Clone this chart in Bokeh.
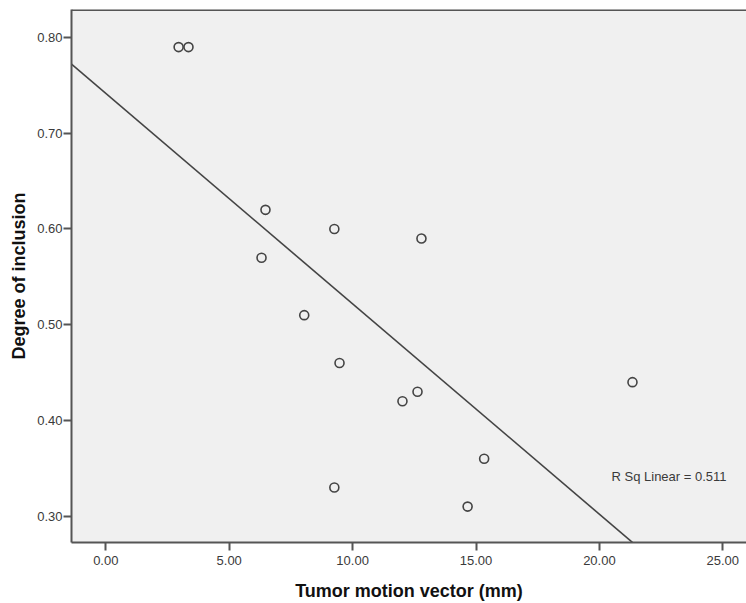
import numpy as np
from bokeh.plotting import figure
from bokeh.models import Range1d, FixedTicker, PrintfTickFormatter, Label, Span
from bokeh.embed import file_html
from bokeh.resources import INLINE

# Data
motion_mm = [2.95, 3.35, 6.47, 9.26, 12.79, 6.31, 8.04, 9.47, 12.63, 12.02, 21.34, 15.33, 9.26, 14.66]
inclusion = [0.79, 0.79, 0.62, 0.60, 0.59, 0.57, 0.51, 0.46, 0.43, 0.42, 0.44, 0.36, 0.33, 0.31]
x_ticks = [0, 5, 10, 15, 20, 25]
y_ticks = [0.30, 0.40, 0.50, 0.60, 0.70, 0.80]
r_sq_text = "R Sq Linear = 0.511"

FONT = "Liberation Sans"
AX = "#555555"
TXT = "#3a3a3a"

x_range = Range1d(-1.39, 25.96)
y_range = Range1d(0.2725, 0.8293)

p = figure(width=746, height=603, x_range=x_range, y_range=y_range,
           output_backend="svg", toolbar_location=None,
           min_border_left=71, min_border_right=0, min_border_top=9, min_border_bottom=61)
p.background_fill_color = "#f0f0f0"
p.border_fill_color = "white"
p.outline_line_color = None
p.grid.visible = False

# top border of the frame
p.add_layout(Span(location=y_range.end, dimension="width", line_color=AX, line_width=3))

for ax in (p.xaxis[0], p.yaxis[0]):
    ax.axis_line_color = AX
    ax.axis_line_width = 2
    ax.major_tick_line_color = AX
    ax.major_tick_line_width = 2
    ax.major_tick_in = 0
    ax.minor_tick_line_color = None
    ax.major_label_text_font = FONT
    ax.major_label_text_font_size = "13px"
    ax.major_label_text_color = TXT
    ax.axis_label_text_font = FONT
    ax.axis_label_text_font_style = "bold"
    ax.axis_label_text_font_size = "18px"
    ax.axis_label_text_color = "#111111"

p.xaxis.ticker = FixedTicker(ticks=x_ticks)
p.yaxis.ticker = FixedTicker(ticks=y_ticks)
p.xaxis.formatter = PrintfTickFormatter(format="%.2f")
p.yaxis.formatter = PrintfTickFormatter(format="%.2f")
p.xaxis.major_tick_out = 8
p.yaxis.major_tick_out = 8
p.xaxis.major_label_standoff = 5
p.yaxis.major_label_standoff = 1
p.xaxis.axis_label = "Tumor motion vector (mm)"
p.yaxis.axis_label = "Degree of inclusion"
p.xaxis.axis_label_standoff = 13
p.yaxis.axis_label_standoff = 5

# linear fit
slope, intercept = np.polyfit(motion_mm, inclusion, 1)
fx = [x_range.start, x_range.end]
fy = [intercept + slope * v for v in fx]
p.line(fx, fy, line_color="#444444", line_width=1.6)

p.scatter(motion_mm, inclusion, marker="circle", size=9, fill_color=None,
          line_color="#444444", line_width=1.6)

p.add_layout(Label(x=20.49, y=0.3415, text=r_sq_text, text_font=FONT,
                   text_font_size="13px", text_color=TXT, text_baseline="middle"))

open("out.html", "w").write(file_html(p, INLINE))
